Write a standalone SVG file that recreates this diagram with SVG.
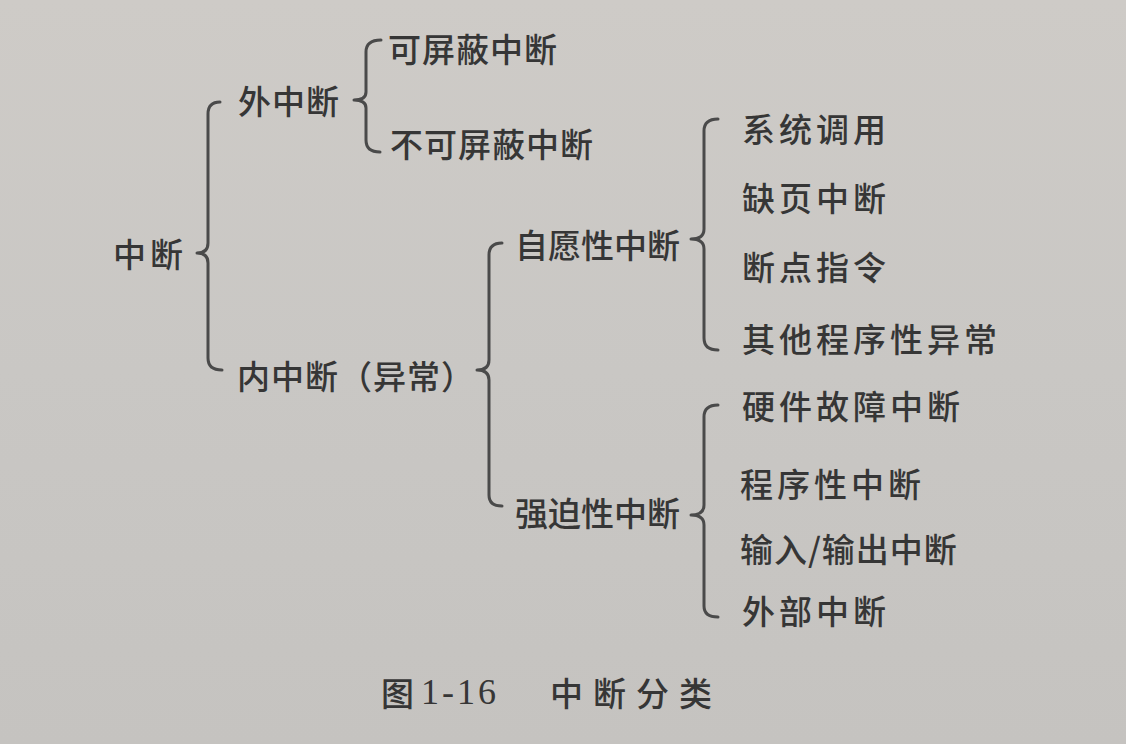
<svg xmlns="http://www.w3.org/2000/svg" width="1126" height="744" viewBox="0 0 1126 744">
<defs>
<linearGradient id="bg" x1="0" y1="0" x2="0" y2="1">
<stop offset="0" stop-color="#cecbc7"/>
<stop offset="0.5" stop-color="#c9c7c4"/>
<stop offset="1" stop-color="#c5c3c0"/>
</linearGradient>
<style>
.t{font-family:"Noto Sans CJK SC","Noto Sans",sans-serif;font-size:33px;font-weight:500;fill:#363636;letter-spacing:4px;dominant-baseline:central}
.s1{letter-spacing:1px}
.s0{letter-spacing:0}
.b{fill:none;stroke:#4a4a4a;stroke-width:3;stroke-linecap:round;stroke-linejoin:round}
.cap{font-family:"Noto Sans CJK SC","Noto Sans",sans-serif;font-size:33px;font-weight:500;fill:#363636;dominant-baseline:central}
.num{font-family:"Liberation Serif",serif;font-size:36px;letter-spacing:3px}
.wide{letter-spacing:10px}
</style>
</defs>
<rect width="1126" height="744" fill="url(#bg)"/>
<g id="connectors">
<path class="b" d="M220,102 Q208,102 208,114 L208,243 Q208,253 197,253 Q208,253 208,263 L208,358 Q208,370 222,370"/>
<path class="b" d="M381,40 Q366,40 366,52 L366,92 Q366,100 354,100 Q366,100 366,108 L366,140 Q366,152 380,152"/>
<path class="b" d="M502,243 Q489,243 489,255 L489,360 Q489,370 477,370 Q489,370 489,380 L489,495 Q489,506 502,506"/>
<path class="b" d="M718,119 Q704,119 704,131 L704,229 Q704,239 691,239 Q704,239 704,249 L704,338 Q704,350 718,350"/>
<path class="b" d="M718,405 Q704,405 704,417 L704,505 Q704,515 691,515 Q704,515 704,525 L704,606 Q704,617 718,617"/>
</g>
<g id="n-root"><text class="t" x="113" y="253">中断</text></g>
<g id="n-ext"><text class="t s1" x="238" y="100">外中断</text></g>
<g id="n-ext-mask"><text class="t s1" x="388" y="48">可屏蔽中断</text></g>
<g id="n-ext-nmi"><text class="t s1" x="390" y="143">不可屏蔽中断</text></g>
<g id="n-int"><text class="t s1" x="237" y="375">内中断（异常）</text></g>
<g id="n-vol"><text class="t s0" x="515" y="244">自愿性中断</text></g>
<g id="n-forced"><text class="t s0" x="515" y="512">强迫性中断</text></g>
<g id="n-syscall"><text class="t" x="742" y="128">系统调用</text></g>
<g id="n-pagefault"><text class="t" x="742" y="197">缺页中断</text></g>
<g id="n-breakpoint"><text class="t" x="742" y="266">断点指令</text></g>
<g id="n-otherexc"><text class="t" x="742" y="338">其他程序性异常</text></g>
<g id="n-hw"><text class="t" x="742" y="405">硬件故障中断</text></g>
<g id="n-prog"><text class="t" x="740" y="483">程序性中断</text></g>
<g id="n-io"><text class="t s1" x="740" y="548">输入/输出中断</text></g>
<g id="n-external"><text class="t" x="742" y="610">外部中断</text></g>
<g id="caption"><text class="cap" y="692"><tspan x="381">图</tspan><tspan x="421" class="num">1-16</tspan><tspan x="550" class="wide">中断分类</tspan></text></g>
</svg>
